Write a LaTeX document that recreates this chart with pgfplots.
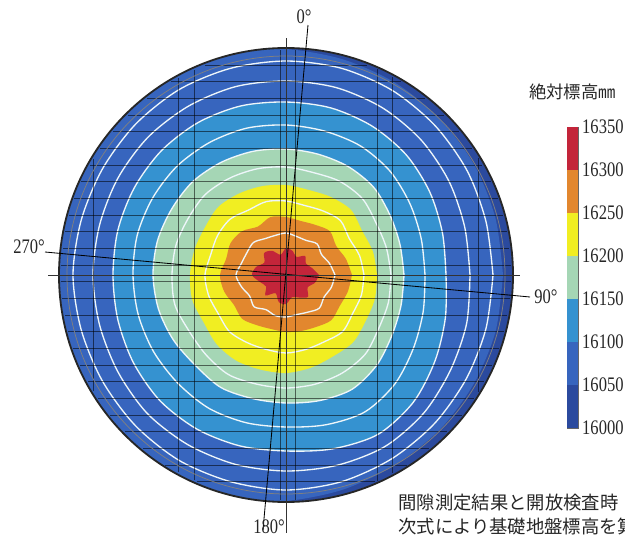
\documentclass[border=0pt]{standalone}
\usepackage{fontspec}
\setmainfont{Liberation Serif}
\newfontfamily\numfont[FakeStretch=0.8]{Liberation Serif}
\newfontfamily\cjk{Noto Sans CJK JP}
\usepackage{pgfplots}
\pgfplotsset{compat=1.18}
\definecolor{cNavy}{HTML}{2B4A9E}
\definecolor{cMed}{HTML}{3765BE}
\definecolor{cLt}{HTML}{3592D0}
\definecolor{cGreen}{HTML}{A5D6B5}
\definecolor{cYel}{HTML}{F1EE22}
\definecolor{cOra}{HTML}{E2872E}
\definecolor{cRed}{HTML}{C3253A}
\definecolor{cWhite}{HTML}{EEF6FA}
\begin{document}
\begin{tikzpicture}
\path[use as bounding box] (0,0) rectangle (375pt,324pt);
\begin{axis}[at={(0,0)}, anchor=south west, scale only axis,
  width=375pt, height=324pt, xmin=-286, xmax=339, ymin=-265, ymax=275,
  hide axis, clip=false]
% base level 16000-16050
\fill[cNavy] (axis cs:0,0) circle [radius=227];
% 16050
\addplot[data cs=polar, smooth, fill=cMed, draw=none] coordinates {(0,217) (15,217) (30,218) (45,219) (60,221) (75,223) (90,226) (105,232) (120,236) (135,236) (150,236) (165,236) (180,236) (195,236) (210,236) (225,236) (240,236) (255,232) (270,226) (285,222) (300,219) (315,218) (330,217) (345,217) (360,217)};
% 16100
\addplot[data cs=polar, smooth, fill=cLt, draw=none] coordinates {(0,160) (15,162) (30,166) (45,170) (60,172) (75,173) (90,173) (105,175) (120,176) (135,176) (150,175) (165,174) (180,173) (195,174) (210,176) (225,178) (240,178) (255,177) (270,176) (285,180) (300,184) (315,180) (330,172) (345,165) (360,160)};
% 16150
\addplot[data cs=polar, smooth, fill=cGreen, draw=none] coordinates {(0,118) (15,118) (30,120) (45,124) (60,125) (75,125) (90,126) (105,128) (120,130) (135,132) (150,132) (165,133) (180,133) (195,132) (210,130) (225,128) (240,130) (255,128) (270,128) (285,130) (300,132) (315,128) (330,122) (345,119) (360,118)};
% 16200
\addplot[data cs=polar, smooth, fill=cYel, draw=none] coordinates {(0,91) (15,90) (30,88) (45,92) (60,90) (75,88) (90,90) (105,92) (120,94) (135,96) (150,94) (165,95) (180,96) (195,97) (210,95) (225,98) (240,99) (255,98) (270,98) (285,96) (300,94) (315,95) (330,92) (345,92) (360,91)};
% 16250
\addplot[data cs=polar, smooth, fill=cOra, draw=none] coordinates {(0,66) (15,62) (30,58) (45,62) (60,58) (75,56) (90,58) (105,60) (120,56) (135,62) (150,64) (165,62) (180,66) (195,64) (210,60) (225,62) (240,58) (255,56) (270,57) (285,58) (300,60) (315,64) (330,62) (345,64) (360,66)};
% 16300
\addplot[data cs=polar, smooth, fill=cRed, draw=none] coordinates {(0,33) (15,27) (30,23) (45,27) (60,21) (75,25) (90,27) (105,21) (120,28) (135,31) (150,25) (165,31) (180,34) (195,27) (210,23) (225,29) (240,21) (255,28) (270,29) (285,23) (300,26) (315,31) (330,25) (345,30) (360,33)};
% white contour lines
\pgfplotsset{wl/.style={data cs=polar, smooth, draw=cWhite, line width=0.8pt}}
\addplot[wl] coordinates {(0,207) (15,207) (30,209) (45,211) (60,213) (75,214) (90,214) (105,214) (120,214) (135,213) (150,212) (165,212) (180,213) (195,212) (210,212) (225,213) (240,214) (255,214) (270,215) (285,214) (300,212) (315,210) (330,208) (345,207) (360,207)};
\addplot[wl] coordinates {(0,184) (15,185) (30,188) (45,191) (60,193) (75,194) (90,194) (105,195) (120,195) (135,195) (150,194) (165,193) (180,193) (195,193) (210,194) (225,196) (240,196) (255,196) (270,196) (285,197) (300,198) (315,195) (330,190) (345,187) (360,184)};
\addplot[wl] coordinates {(0,160) (15,162) (30,166) (45,170) (60,172) (75,173) (90,173) (105,175) (120,176) (135,176) (150,175) (165,174) (180,173) (195,174) (210,176) (225,178) (240,178) (255,177) (270,176) (285,180) (300,184) (315,180) (330,172) (345,165) (360,160)};
\addplot[wl] coordinates {(0,139) (15,140) (30,143) (45,147) (60,149) (75,149) (90,150) (105,152) (120,153) (135,154) (150,154) (165,154) (180,153) (195,153) (210,153) (225,153) (240,154) (255,153) (270,152) (285,155) (300,158) (315,154) (330,147) (345,142) (360,139)};
\addplot[wl] coordinates {(0,118) (15,118) (30,120) (45,124) (60,125) (75,125) (90,126) (105,128) (120,130) (135,132) (150,132) (165,133) (180,133) (195,132) (210,130) (225,128) (240,130) (255,128) (270,128) (285,130) (300,132) (315,128) (330,122) (345,119) (360,118)};
\addplot[wl] coordinates {(0,105) (15,104) (30,104) (45,108) (60,108) (75,106) (90,108) (105,110) (120,112) (135,114) (150,113) (165,114) (180,114) (195,115) (210,112) (225,113) (240,115) (255,113) (270,113) (285,113) (300,113) (315,112) (330,107) (345,106) (360,105)};
\addplot[wl] coordinates {(0,78) (15,76) (30,73) (45,77) (60,74) (75,72) (90,74) (105,76) (120,75) (135,79) (150,79) (165,78) (180,81) (195,80) (210,78) (225,80) (240,78) (255,77) (270,78) (285,77) (300,77) (315,80) (330,77) (345,78) (360,78)};
\addplot[wl] coordinates {(0,49) (15,45) (30,41) (45,44) (60,40) (75,40) (90,42) (105,41) (120,42) (135,46) (150,45) (165,46) (180,50) (195,46) (210,42) (225,45) (240,40) (255,42) (270,42) (285,41) (300,43) (315,47) (330,44) (345,47) (360,49)};
% plate grid lines
\addplot[black, opacity=0.55, line width=0.4pt, unbounded coords=jump] coordinates {
(-81,210) (81,210) (nan,nan) (-115,193.4) (115,193.4) (nan,nan) (-139,176.7) (139,176.7) (nan,nan)
(-158,160) (158,160) (nan,nan) (-173,143.4) (173,143.4) (nan,nan) (-186,126.7) (186,126.7) (nan,nan)
(-196,110) (196,110) (nan,nan) (-205,93.4) (205,93.4) (nan,nan) (-212,76.7) (212,76.7) (nan,nan)
(-217,60) (217,60) (nan,nan) (-221,43.3) (221,43.3) (nan,nan) (-223,26.7) (223,26.7) (nan,nan)
(-225,10) (225,10) (nan,nan) (-225,-6.7) (225,-6.7) (nan,nan) (-224,-23.3) (224,-23.3) (nan,nan)
(-221,-40) (221,-40) (nan,nan) (-218,-56.7) (218,-56.7) (nan,nan) (-213,-73.4) (213,-73.4) (nan,nan)
(-206,-90) (206,-90) (nan,nan) (-198,-106.7) (198,-106.7) (nan,nan) (-188,-123.4) (188,-123.4) (nan,nan)
(-176,-140) (176,-140) (nan,nan) (-161,-156.7) (161,-156.7) (nan,nan) (-143,-173.4) (143,-173.4) (nan,nan)
(-121,-190) (121,-190) (nan,nan) (-89,-206.7) (89,-206.7)
};
\addplot[black, opacity=0.55, line width=0.4pt, unbounded coords=jump] coordinates {
(-193,116) (-193,-116) (nan,nan) (-108,197) (-108,-197) (nan,nan) (-92,205) (-92,-205) (nan,nan)
(-6,225) (-6,-225) (nan,nan) (9,225) (9,-225) (nan,nan) (91,206) (91,-206) (nan,nan)
(106,198) (106,-198) (nan,nan) (192,117) (192,-117)
};
% mask outside the tank
\draw[white, line width=16pt] (axis cs:0,0) circle [radius=240];
\draw[black!50, line width=0.45pt] (axis cs:0,0) circle [radius=219];
\draw[black!85, line width=1.1pt] (axis cs:0,0) circle [radius=227];
% axis lines
\addplot[black, line width=0.5pt] coordinates {(-241,23) (244,-22)};
\addplot[black, line width=0.5pt] coordinates {(22,250) (-23,-255)};
\addplot[black!80, line width=0.45pt] coordinates {(-238,0) (234,0)};
\addplot[black!80, line width=0.45pt] coordinates {(0,237) (0,-258)};
% direction labels
\node[font=\numfont\fontsize{12.4}{14}\selectfont, text=black!85] at (axis cs:18,258) {0°};
\node[font=\numfont\fontsize{12.4}{14}\selectfont, text=black!85] at (axis cs:-257,28) {270°};
\node[font=\numfont\fontsize{12.4}{14}\selectfont, text=black!85] at (axis cs:260,-22) {90°};
\node[font=\numfont\fontsize{12.4}{14}\selectfont, text=black!85] at (axis cs:-17,-252) {180°};
\end{axis}
% colour bar
\begin{axis}[at={(340.2pt,67.2pt)}, anchor=south west, scale only axis,
  width=6.6pt, height=180.6pt, xmin=0, xmax=1, ymin=16000, ymax=16350,
  ytick={16000,16050,...,16350}, xtick=\empty, yticklabel pos=right,
  scaled y ticks=false,
  major tick length=0pt, axis line style={draw=black!60, line width=0.4pt},
  yticklabel style={font=\numfont\fontsize{12.4}{14}\selectfont, text=black!85, xshift=-1pt,
    /pgf/number format/.cd, fixed, precision=0, set thousands separator={}, assume math mode=true}]
\addplot[fill=cNavy, draw=none] coordinates {(0,16000) (1,16000) (1,16050) (0,16050)};
\addplot[fill=cMed, draw=none] coordinates {(0,16050) (1,16050) (1,16100) (0,16100)};
\addplot[fill=cLt, draw=none] coordinates {(0,16100) (1,16100) (1,16150) (0,16150)};
\addplot[fill=cGreen, draw=none] coordinates {(0,16150) (1,16150) (1,16200) (0,16200)};
\addplot[fill=cYel, draw=none] coordinates {(0,16200) (1,16200) (1,16250) (0,16250)};
\addplot[fill=cOra, draw=none] coordinates {(0,16250) (1,16250) (1,16300) (0,16300)};
\addplot[fill=cRed, draw=none] coordinates {(0,16300) (1,16300) (1,16350) (0,16350)};
\end{axis}
\node[font=\cjk\fontsize{10.4}{12}\selectfont, text=black!85] at (343.5pt,268.8pt) {絶対標高㎜};
\node[font=\cjk\fontsize{11}{13}\selectfont, text=black!85, anchor=west, inner sep=0pt] at (238.8pt,22.2pt) {間隙測定結果と開放検査時};
\node[font=\cjk\fontsize{11}{13}\selectfont, text=black!85, anchor=west, inner sep=0pt] at (238.8pt,7.8pt) {次式により基礎地盤標高を算};
\end{tikzpicture}
\end{document}
